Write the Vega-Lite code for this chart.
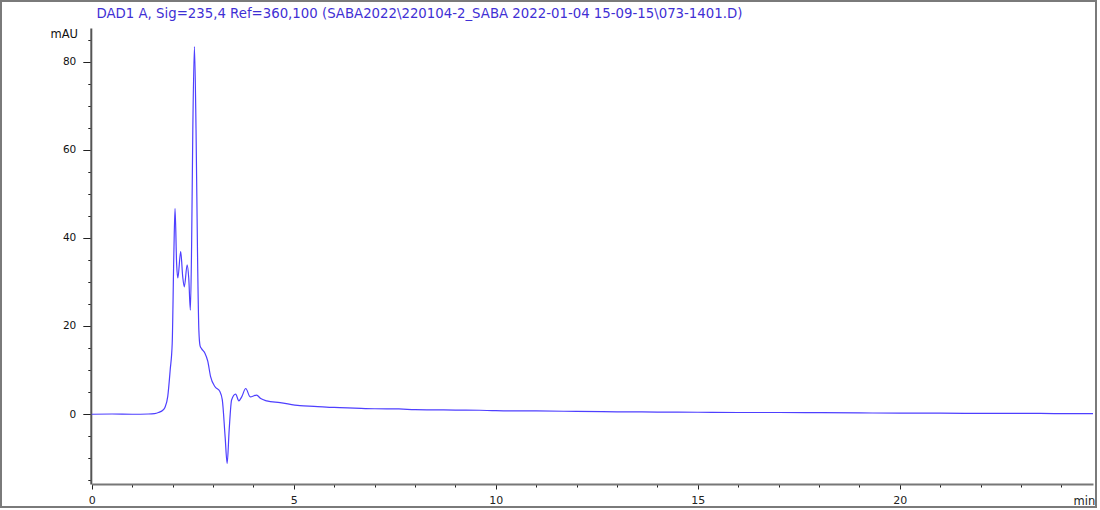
{
  "$schema": "https://vega.github.io/schema/vega-lite/v6.json",
  "autosize": "none",
  "width": 1095,
  "height": 506,
  "padding": {"left": 1, "top": 1, "right": 4, "bottom": 3},
  "background": "white",
  "config": {
    "view": {"stroke": "#7a7a7a", "strokeWidth": 2},
    "font": "DejaVu Sans"
  },
  "data": {
    "values": [
      {"t": 0.0, "mAU": -0.05},
      {"t": 0.5, "mAU": 0.0},
      {"t": 1.0, "mAU": -0.05},
      {"t": 1.4, "mAU": 0.0},
      {"t": 1.55, "mAU": 0.1},
      {"t": 1.65, "mAU": 0.35},
      {"t": 1.75, "mAU": 0.8},
      {"t": 1.81, "mAU": 1.5},
      {"t": 1.88, "mAU": 4.0},
      {"t": 1.94, "mAU": 10.0},
      {"t": 1.99, "mAU": 16.0},
      {"t": 2.03, "mAU": 36.0},
      {"t": 2.06, "mAU": 46.7},
      {"t": 2.10, "mAU": 34.0},
      {"t": 2.13, "mAU": 30.9},
      {"t": 2.20, "mAU": 36.9},
      {"t": 2.25, "mAU": 31.2},
      {"t": 2.29, "mAU": 28.9},
      {"t": 2.36, "mAU": 33.9},
      {"t": 2.40, "mAU": 30.8},
      {"t": 2.44, "mAU": 23.6},
      {"t": 2.47, "mAU": 38.0},
      {"t": 2.50, "mAU": 64.5},
      {"t": 2.54, "mAU": 83.5},
      {"t": 2.58, "mAU": 64.5},
      {"t": 2.62, "mAU": 34.0},
      {"t": 2.65, "mAU": 19.0},
      {"t": 2.68, "mAU": 15.5},
      {"t": 2.72, "mAU": 14.8},
      {"t": 2.80, "mAU": 13.8},
      {"t": 2.87, "mAU": 12.0},
      {"t": 2.94, "mAU": 8.5},
      {"t": 3.05, "mAU": 6.2},
      {"t": 3.17, "mAU": 5.1},
      {"t": 3.23, "mAU": 3.2},
      {"t": 3.30, "mAU": -5.2},
      {"t": 3.35, "mAU": -11.2},
      {"t": 3.40, "mAU": -3.6},
      {"t": 3.46, "mAU": 3.2},
      {"t": 3.56, "mAU": 4.5},
      {"t": 3.64, "mAU": 3.0},
      {"t": 3.71, "mAU": 3.9},
      {"t": 3.81, "mAU": 5.8},
      {"t": 3.92, "mAU": 3.9},
      {"t": 4.08, "mAU": 4.3},
      {"t": 4.18, "mAU": 3.5},
      {"t": 4.33, "mAU": 3.0},
      {"t": 4.66, "mAU": 2.6},
      {"t": 5.15, "mAU": 1.9},
      {"t": 5.5, "mAU": 1.75},
      {"t": 6.0, "mAU": 1.5},
      {"t": 6.5, "mAU": 1.35},
      {"t": 7.0, "mAU": 1.2},
      {"t": 7.6, "mAU": 1.15},
      {"t": 8.0, "mAU": 1.0},
      {"t": 9.0, "mAU": 0.9},
      {"t": 9.6, "mAU": 0.85},
      {"t": 10.0, "mAU": 0.75},
      {"t": 11.0, "mAU": 0.7},
      {"t": 12.0, "mAU": 0.6},
      {"t": 13.0, "mAU": 0.5},
      {"t": 14.0, "mAU": 0.45},
      {"t": 15.0, "mAU": 0.4},
      {"t": 16.0, "mAU": 0.35},
      {"t": 17.0, "mAU": 0.35},
      {"t": 18.0, "mAU": 0.3},
      {"t": 19.0, "mAU": 0.25},
      {"t": 20.0, "mAU": 0.2},
      {"t": 21.0, "mAU": 0.2},
      {"t": 22.0, "mAU": 0.15},
      {"t": 23.0, "mAU": 0.15},
      {"t": 24.0, "mAU": 0.1},
      {"t": 24.78, "mAU": 0.1}
    ]
  },
  "layer": [
    {
      "mark": {"type": "line", "color": "#4e3fff", "strokeWidth": 1.2, "interpolate": "monotone", "clip": false},
      "encoding": {
        "x": {
          "field": "t",
          "type": "quantitative",
          "scale": {"domain": [0, 24.78], "range": [90.8, 1092], "nice": false, "zero": false},
          "axis": {
            "orient": "bottom",
            "offset": -23,
            "values": [0,1,2,3,4,5,6,7,8,9,10,11,12,13,14,15,16,17,18,19,20,21,22,23,24],
            "labelExpr": "datum.value % 5 === 0 ? datum.label : ''",
            "tickSize": {"condition": {"test": "datum.value % 5 === 0", "value": 5}, "value": 3},
            "tickColor": "#222",
            "tickWidth": 1,
            "domainColor": "#777",
            "domainWidth": 2,
            "grid": false,
            "labelFont": "DejaVu Sans",
            "labelFontSize": 11,
            "labelColor": "#222",
            "labelPadding": 5,
            "labelFlush": false,
            "labelOverlap": false,
            "title": "min",
            "titleFont": "DejaVu Sans",
            "titleFontSize": 11.5,
            "titleFontWeight": "normal",
            "titleColor": "#222",
            "titleAngle": 0,
            "titleAlign": "left",
            "titleBaseline": "middle",
            "titleX": 1072,
            "titleY": 17
          }
        },
        "y": {
          "field": "mAU",
          "type": "quantitative",
          "scale": {"domain": [-15.9, 87.7], "range": [483, 27], "nice": false, "zero": false},
          "axis": {
            "orient": "left",
            "offset": -89.8,
            "values": [-15,-10,-5,0,5,10,15,20,25,30,35,40,45,50,55,60,65,70,75,80,85],
            "labelExpr": "datum.value % 20 === 0 ? datum.label : ''",
            "tickSize": {"condition": {"test": "datum.value % 20 === 0", "value": 8}, "value": 3},
            "tickColor": "#222",
            "tickWidth": 1,
            "domainColor": "#555",
            "domainWidth": 2,
            "grid": false,
            "labelFont": "DejaVu Sans",
            "labelFontSize": 10.5,
            "labelColor": "#111",
            "labelPadding": 7,
            "labelOverlap": false,
            "title": "mAU",
            "titleFont": "DejaVu Sans",
            "titleFontSize": 11.5,
            "titleFontWeight": "normal",
            "titleColor": "#111",
            "titleAngle": 0,
            "titleAlign": "center",
            "titleBaseline": "middle",
            "titleX": -27,
            "titleY": 33
          }
        }
      }
    },
    {
      "mark": {"type": "line", "opacity": 0},
      "encoding": {
        "x": {
          "field": "t",
          "type": "quantitative",
          "axis": {
            "orient": "top",
            "labels": false,
            "ticks": false,
            "domain": false,
            "grid": false,
            "title": "DAD1 A, Sig=235,4 Ref=360,100 (SABA2022\\220104-2_SABA 2022-01-04 15-09-15\\073-1401.D)",
            "titleFont": "DejaVu Sans",
            "titleFontSize": 13.3,
            "titleFontWeight": "normal",
            "titleColor": "#3f30d4",
            "titleAngle": 0,
            "titleAlign": "left",
            "titleBaseline": "alphabetic",
            "titleX": 95,
            "titleY": 16
          }
        }
      }
    }
  ],
  "resolve": {"axis": {"x": "independent"}}
}
